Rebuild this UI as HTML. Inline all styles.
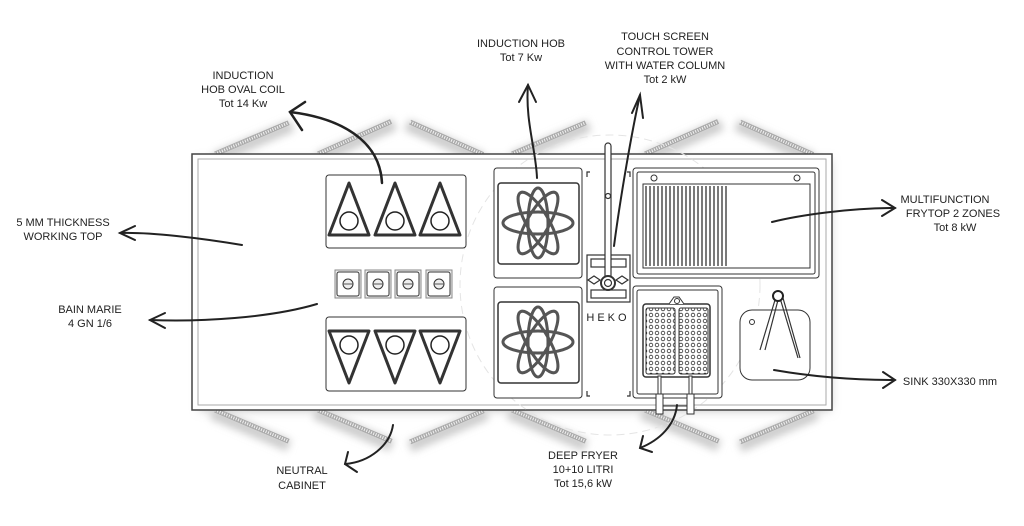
<!DOCTYPE html>
<html><head><meta charset="utf-8"><style>
html,body{margin:0;padding:0;background:#fff;width:1024px;height:526px;overflow:hidden}
svg text{font-family:"Liberation Sans Narrow","Liberation Sans",sans-serif;font-size:11px;fill:#222;text-anchor:middle}
</style></head><body>
<svg width="1024" height="526" viewBox="0 0 1024 526" xmlns="http://www.w3.org/2000/svg">
<defs>
<filter id="sh" x="-20%" y="-20%" width="140%" height="140%"><feGaussianBlur stdDeviation="5"/></filter>
<filter id="sh2" x="-30%" y="-200%" width="160%" height="500%"><feGaussianBlur stdDeviation="4"/></filter>
<g id="hatch"><rect x="-2" y="-2" width="84" height="12" fill="#ccc" filter="url(#sh2)"/><line x1="0" y1="0" x2="80" y2="0" stroke="#aaa" stroke-width="5"/><line x1="0" y1="0" x2="80" y2="0" stroke="#f2f2f2" stroke-width="3" stroke-dasharray="1 1.5"/></g>
<g id="atom" fill="none" stroke="#555" stroke-width="3">
<ellipse cx="0" cy="0" rx="35" ry="11"/>
<ellipse cx="0" cy="0" rx="35" ry="11" transform="rotate(60)"/>
<ellipse cx="0" cy="0" rx="35" ry="11" transform="rotate(-60)"/>
<ellipse cx="0" cy="0" rx="35" ry="10" transform="rotate(90)"/>
</g>
<g id="tri"><path d="M0,-34 L-20,18 L20,18 Z" fill="none" stroke="#333" stroke-width="3" stroke-linejoin="round"/><circle cx="0" cy="4" r="9" fill="none" stroke="#222" stroke-width="1.5"/></g>
<g id="gn"><rect x="-13" y="-14" width="26" height="28" fill="#eee" stroke="#888"/><rect x="-11" y="-12" width="22" height="24" rx="2" fill="#fff" stroke="#333"/><circle r="5" fill="#eee" stroke="#333"/><line x1="-5" y1="0" x2="5" y2="0" stroke="#555"/></g>
<pattern id="holes" width="6" height="6" patternUnits="userSpaceOnUse"><circle cx="3" cy="3" r="1.8" fill="none" stroke="#333" stroke-width="0.8"/></pattern>
</defs>

<rect x="200" y="160" width="630" height="250" fill="#bbb" filter="url(#sh)"/>
<g>
<use href="#hatch" transform="translate(215,154) rotate(-23)"/>
<use href="#hatch" transform="translate(318,154) rotate(-24)"/>
<use href="#hatch" transform="translate(410,122) rotate(24)"/>
<use href="#hatch" transform="translate(512,154) rotate(-23)"/>
<use href="#hatch" transform="translate(645,154) rotate(-24)"/>
<use href="#hatch" transform="translate(740,122) rotate(24)"/>
<use href="#hatch" transform="translate(215,410) rotate(23)"/>
<use href="#hatch" transform="translate(318,410) rotate(23)"/>
<use href="#hatch" transform="translate(410,442) rotate(-23)"/>
<use href="#hatch" transform="translate(512,410) rotate(23)"/>
<use href="#hatch" transform="translate(645,410) rotate(23)"/>
<use href="#hatch" transform="translate(740,442) rotate(-23)"/>
</g>

<rect x="192" y="154" width="640" height="256" fill="#fff" stroke="#444" stroke-width="1.5"/>
<rect x="198" y="159" width="628" height="246" fill="#fff" stroke="#aaa" stroke-width="1"/>
<circle cx="610" cy="285" r="150" fill="none" stroke="#e4e4e4" stroke-dasharray="8 5"/>

<rect x="326" y="175" width="140" height="73" rx="3" fill="#fff" stroke="#333"/>
<use href="#tri" transform="translate(349,217)"/>
<use href="#tri" transform="translate(395,217)"/>
<use href="#tri" transform="translate(440,217)"/>
<rect x="326" y="317" width="140" height="74" rx="3" fill="#fff" stroke="#333"/>
<use href="#tri" transform="translate(349,349) rotate(180)"/>
<use href="#tri" transform="translate(395,349) rotate(180)"/>
<use href="#tri" transform="translate(440,349) rotate(180)"/>
<use href="#gn" transform="translate(348,284)"/>
<use href="#gn" transform="translate(378,284)"/>
<use href="#gn" transform="translate(408,284)"/>
<use href="#gn" transform="translate(439,284)"/>

<rect x="494" y="168" width="88" height="110" rx="3" fill="#fff" stroke="#333"/>
<rect x="498" y="183" width="81" height="81" rx="3" fill="#fff" stroke="#333" stroke-width="1.5"/>
<use href="#atom" transform="translate(538,223)"/>
<rect x="494" y="287" width="88" height="111" rx="3" fill="#fff" stroke="#333"/>
<rect x="498" y="302" width="81" height="81" rx="3" fill="#fff" stroke="#333" stroke-width="1.5"/>
<use href="#atom" transform="translate(538,342)"/>

<g fill="none" stroke="#333" stroke-width="1.2">
<path d="M590,172 h-3 v5 M627,172 h3 v5 M590,396 h-3 v-5 M627,396 h3 v-5"/>
<rect x="587" y="255" width="43" height="47" fill="#fff"/>
<rect x="591" y="259" width="35" height="8"/>
<rect x="591" y="290" width="35" height="8"/>
<rect x="605" y="143" width="6" height="137" rx="3" fill="#fff"/>
<circle cx="608" cy="196" r="2.5" fill="#fff"/>
<circle cx="608" cy="283" r="7" fill="#fff" stroke-width="2"/>
<circle cx="608" cy="283" r="3.5"/>
<path d="M588,280 l6,-4 l6,4 l-6,4z M616,280 l6,-4 l6,4 l-6,4z"/>
</g>
<text x="608" y="321" style="font-size:11px;letter-spacing:3px">HEKO</text>

<rect x="633" y="168" width="186" height="110" rx="3" fill="#fff" stroke="#333"/>
<rect x="637" y="172" width="178" height="102" rx="2" fill="none" stroke="#333"/>
<rect x="643" y="184" width="167" height="84" fill="none" stroke="#333"/>
<g stroke="#222" stroke-width="1.2">
<path d="M646,186v80M650,186v80M654,186v80M658,186v80M662,186v80M666,186v80M670,186v80M674,186v80M678,186v80M682,186v80M686,186v80M690,186v80M694,186v80M698,186v80M702,186v80M706,186v80M710,186v80M714,186v80M718,186v80M722,186v80M726,186v80"/>
</g>
<circle cx="654" cy="178" r="3" fill="#fff" stroke="#333"/>
<circle cx="797" cy="178" r="3" fill="#fff" stroke="#333"/>

<rect x="633" y="286" width="89" height="112" rx="3" fill="#fff" stroke="#333"/>
<rect x="637" y="290" width="81" height="104" rx="2" fill="none" stroke="#333"/>
<rect x="643" y="304" width="67" height="73" rx="3" fill="#fff" stroke="#333" stroke-width="1.5"/>
<rect x="646" y="308" width="29" height="66" rx="2" fill="url(#holes)" stroke="#333"/>
<rect x="679" y="308" width="29" height="66" rx="2" fill="url(#holes)" stroke="#333"/>
<path d="M669,304 l5,-7 h5 l5,7" fill="#fff" stroke="#333"/>
<circle cx="677" cy="301" r="2.5" fill="#fff" stroke="#333"/>
<rect x="658" y="376" width="3" height="22" fill="#fff" stroke="#333"/>
<rect x="689" y="376" width="3" height="22" fill="#fff" stroke="#333"/>
<rect x="656" y="394" width="7" height="20" fill="#fff" stroke="#333"/>
<rect x="687" y="394" width="7" height="20" fill="#fff" stroke="#333"/>
<line x1="663" y1="406" x2="687" y2="406" stroke="#333"/>

<rect x="740" y="310" width="70" height="70" rx="12" fill="#fff" stroke="#333"/>
<circle cx="752" cy="322" r="2.5" fill="none" stroke="#333"/>
<g fill="none" stroke="#333" stroke-width="1.2">
<path d="M775,300 l-15,50 M778,300 l-13,50 M780,298 l18,60 M783,298 l17,60"/>
</g>
<circle cx="778" cy="296" r="5" fill="#fff" stroke="#222" stroke-width="2"/>

<g fill="none" stroke="#222" stroke-width="2" stroke-linecap="round">
<path d="M382,183 C380,140 340,118 290,112" stroke-width="2.5"/>
<path d="M305,102 L290,112 L302,130" stroke-width="2.5"/>
<path d="M537,178 C536,150 525,120 528,85"/>
<path d="M519,102 L528,85 L536,102"/>
<path d="M614,246 C620,200 632,130 640,95"/>
<path d="M632,113 L640,95 L643,118"/>
<path d="M242,245 C200,238 150,232 120,233"/>
<path d="M135,226 L120,233 L135,240"/>
<path d="M317,304 C270,318 200,322 150,320"/>
<path d="M165,313 L150,320 L165,328"/>
<path d="M772,222 C800,215 850,208 895,208"/>
<path d="M882,200 L895,208 L882,216"/>
<path d="M774,370 C820,378 860,380 895,380"/>
<path d="M883,372 L895,380 L883,388"/>
<path d="M677,405 C675,425 660,440 640,448"/>
<path d="M643,436 L640,448 L652,452"/>
<path d="M393,425 C390,445 370,462 345,464"/>
<path d="M348,452 L345,464 L357,472"/>
</g>

<text x="243" y="79">INDUCTION</text>
<text x="243" y="93">HOB OVAL COIL</text>
<text x="243" y="107">Tot 14 Kw</text>
<text x="521" y="47">INDUCTION HOB</text>
<text x="521" y="61">Tot 7 Kw</text>
<text x="665" y="40">TOUCH SCREEN</text>
<text x="665" y="55">CONTROL TOWER</text>
<text x="665" y="69">WITH WATER COLUMN</text>
<text x="665" y="83">Tot 2 kW</text>
<text x="63" y="226">5 MM THICKNESS</text>
<text x="63" y="240">WORKING TOP</text>
<text x="90" y="313">BAIN MARIE</text>
<text x="90" y="327">4 GN  1/6</text>
<text x="945" y="203">MULTIFUNCTION</text>
<text x="953" y="217">FRYTOP 2 ZONES</text>
<text x="955" y="231">Tot 8 kW</text>
<text x="950" y="385">SINK 330X330 mm</text>
<text x="583" y="459">DEEP FRYER</text>
<text x="583" y="473">10+10 LITRI</text>
<text x="583" y="487">Tot 15,6 kW</text>
<text x="302" y="474">NEUTRAL</text>
<text x="302" y="489">CABINET</text>
</svg>
</body></html>
